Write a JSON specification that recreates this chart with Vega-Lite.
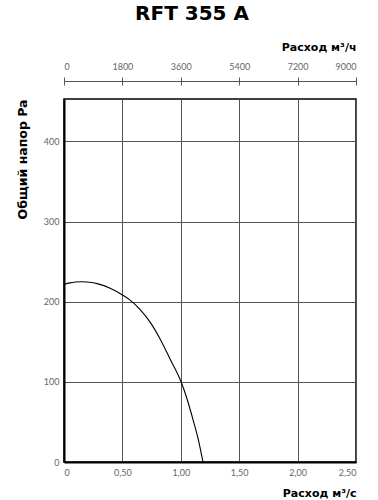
{
  "$schema": "https://vega.github.io/schema/vega-lite/v6.json",
  "width": 292,
  "height": 363,
  "autosize": {"type": "none"},
  "padding": {"left": 64, "top": 99, "right": 22, "bottom": 38},
  "title": {
    "text": "RFT 355 A",
    "frame": "group",
    "anchor": "middle",
    "dx": -18,
    "offset": 17,
    "font": "DejaVu Sans",
    "fontSize": 20,
    "fontWeight": "bold",
    "color": "#000"
  },
  "config": {
    "view": {"stroke": "#000", "strokeWidth": 1.5},
    "axis": {
      "labelFont": "Lato",
      "labelFontSize": 9,
      "labelColor": "#666",
      "titleFont": "DejaVu Sans",
      "titleFontWeight": "bold",
      "titleColor": "#000"
    }
  },
  "layer": [
    {
      "data": {
        "values": [
          {"flow": 0, "pressure": 221.5},
          {"flow": 0.05, "pressure": 223.5},
          {"flow": 0.1, "pressure": 224.6},
          {"flow": 0.15, "pressure": 225},
          {"flow": 0.2, "pressure": 224.6},
          {"flow": 0.3, "pressure": 222},
          {"flow": 0.4, "pressure": 216.5},
          {"flow": 0.5, "pressure": 208.5},
          {"flow": 0.566, "pressure": 202},
          {"flow": 0.65, "pressure": 190.5},
          {"flow": 0.74, "pressure": 174},
          {"flow": 0.825, "pressure": 153},
          {"flow": 0.91, "pressure": 128},
          {"flow": 1.0, "pressure": 101},
          {"flow": 1.055, "pressure": 78},
          {"flow": 1.11, "pressure": 50},
          {"flow": 1.15, "pressure": 28},
          {"flow": 1.19, "pressure": 0}
        ]
      },
      "mark": {"type": "line", "color": "#000", "strokeWidth": 1.1, "interpolate": "monotone"},
      "encoding": {
        "x": {
          "field": "flow",
          "type": "quantitative",
          "scale": {"domain": [0, 2.5], "nice": false, "zero": true},
          "axis": {
            "orient": "bottom",
            "values": [0, 0.5, 1, 1.5, 2, 2.5],
            "labelExpr": "datum.value == 0 ? '0' : replace(format(datum.value, '.2f'), '.', ',')",
            "grid": true,
            "gridColor": "#555",
            "gridWidth": 1,
            "domainColor": "#000",
            "domainWidth": 2,
            "tickSize": 0,
            "labelPadding": 6,
            "title": "Расход м³/с",
            "titleFontSize": 11,
            "titleAnchor": "end",
            "titlePadding": 10
          }
        },
        "y": {
          "field": "pressure",
          "type": "quantitative",
          "scale": {"domain": [0, 453], "nice": false},
          "axis": {
            "values": [0, 100, 200, 300, 400],
            "grid": true,
            "gridColor": "#555",
            "gridWidth": 1,
            "domainColor": "#000",
            "domainWidth": 2,
            "tickSize": 0,
            "labelPadding": 5,
            "title": "Общий напор Pa",
            "titleFontSize": 12.5,
            "titleAnchor": "end",
            "titlePadding": 14
          }
        }
      }
    },
    {
      "data": {"values": [{"flow_h": 0}, {"flow_h": 9000}]},
      "mark": {"type": "point", "opacity": 0},
      "encoding": {
        "x": {
          "field": "flow_h",
          "type": "quantitative",
          "scale": {"domain": [0, 9000], "nice": false},
          "axis": {
            "orient": "top",
            "offset": 18,
            "values": [0, 1800, 3600, 5400, 7200, 9000],
            "format": "d",
            "grid": false,
            "domainColor": "#555",
            "domainWidth": 1,
            "tickColor": "#555",
            "tickSize": 4,
            "labelPadding": 6,
            "title": "Расход м³/ч",
            "titleFontSize": 11,
            "titleAnchor": "end",
            "titlePadding": 10
          }
        }
      }
    },
    {
      "data": {"values": [{"flow_h": 0}, {"flow_h": 9000}]},
      "mark": {"type": "point", "opacity": 0},
      "encoding": {
        "x": {
          "field": "flow_h",
          "type": "quantitative",
          "scale": {"domain": [0, 9000], "nice": false},
          "axis": {
            "orient": "top",
            "offset": 14,
            "values": [0, 1800, 3600, 5400, 7200, 9000],
            "grid": false,
            "domain": false,
            "labels": false,
            "tickColor": "#555",
            "tickSize": 4,
            "title": null
          }
        }
      }
    }
  ],
  "resolve": {"scale": {"x": "independent"}}
}
